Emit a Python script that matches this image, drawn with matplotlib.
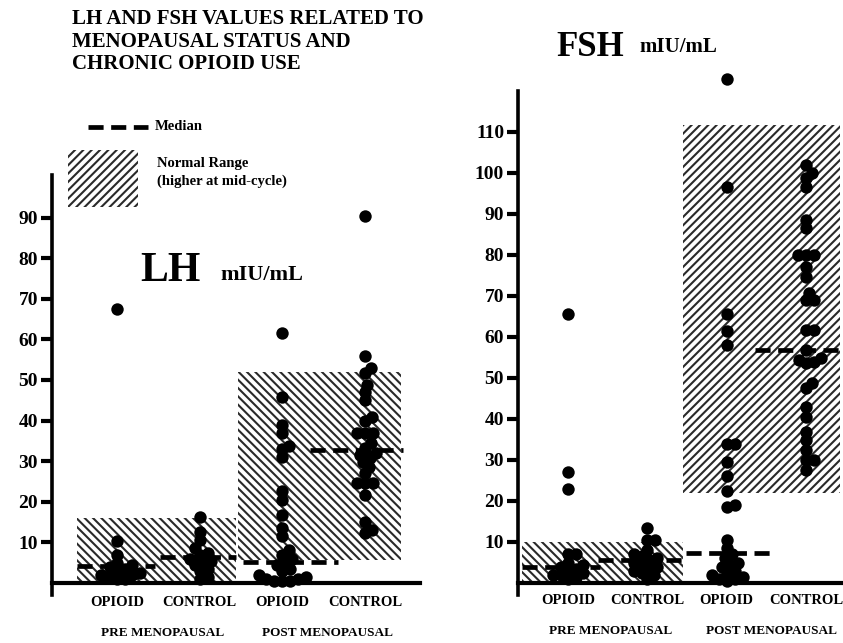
import numpy as np
import matplotlib
matplotlib.use("Agg")
import matplotlib.pyplot as plt
from matplotlib.patches import Rectangle
from matplotlib.lines import Line2D

plt.rcParams['font.family'] = ['Liberation Serif', 'DejaVu Serif']
plt.rcParams['font.weight'] = 'bold'
plt.rcParams['hatch.linewidth'] = 1.5

# ---------------- data ----------------
categories = ["OPIOID", "CONTROL", "OPIOID", "CONTROL"]
groups = ["PRE MENOPAUSAL", "POST MENOPAUSAL"]

lh_pre_opioid = [67.5, 10.3, 7.0, 5.0, 4.5, 4.0, 3.5, 3.0, 2.5, 2.0, 2.0, 1.5, 1.0, 1.0]
lh_pre_control = [16.3, 12.5, 10.5, 8.5, 7.5, 7.0, 6.0, 5.5, 5.0, 4.5, 3.5, 3.0, 1.5, 1.0]
lh_post_opioid = [61.5, 45.8, 39.0, 37.0, 33.7, 33.0, 31.0, 22.7, 20.4, 16.7, 13.5, 11.6,
                  8.1, 7.0, 6.0, 5.0, 4.5, 3.5, 3.0, 2.0, 1.5, 1.0, 1.0, 0.5, 0.5, 0.5]
lh_post_control = [90.5, 56.0, 53.0, 51.7, 48.8, 47.0, 45.0, 41.0, 40.0, 37.0, 37.0, 37.0,
                   34.5, 33.3, 32.0, 31.5, 30.8, 29.8, 28.6, 27.0, 24.6, 24.6, 24.6, 21.7,
                   15.0, 13.0, 12.3]
lh_medians = [4.3, 6.5, 5.2, 32.8]
lh_normal_pre = (0.0, 15.9)
lh_normal_post = (5.7, 52.0)

fsh_pre_opioid = [65.5, 27.0, 23.0, 7.0, 7.0, 5.0, 4.5, 4.0, 3.5, 3.0, 2.5, 2.0, 2.0, 1.5, 1.0]
fsh_pre_control = [13.5, 10.5, 10.5, 8.0, 7.0, 6.5, 6.0, 5.5, 5.0, 4.5, 4.0, 3.5, 3.0, 2.5, 2.0, 1.0]
fsh_post_opioid = [123.0, 96.5, 65.5, 61.5, 58.0, 34.0, 34.0, 29.5, 26.0, 22.5, 19.0, 18.5,
                   10.5, 8.5, 7.0, 6.0, 5.0, 4.5, 4.0, 3.0, 2.5, 2.0, 1.5, 1.0, 1.0, 0.5]
fsh_post_control = [102.0, 100.0, 98.8, 96.6, 88.5, 86.6, 80.0, 80.0, 80.0, 77.0, 74.6, 70.7,
                    69.0, 69.0, 61.7, 61.7, 56.8, 55.0, 54.5, 54.0, 53.6, 48.8, 47.6, 43.0,
                    40.5, 36.8, 34.9, 32.4, 30.0, 30.0, 27.6]
fsh_medians = [4.0, 5.6, 7.2, 56.8]
fsh_normal_pre = (0.0, 10.1)
fsh_normal_post = (21.9, 111.7)

lh_ticks = [10, 20, 30, 40, 50, 60, 70, 80, 90]
fsh_ticks = [10, 20, 30, 40, 50, 60, 70, 80, 90, 100, 110]

# ---------------- layout ----------------
W, H = 843, 643
fig = plt.figure(figsize=(W / 100, H / 100), dpi=100)


def fxy(px, py):
    return px / W, 1 - py / H


ax1 = fig.add_axes([52 / W, (H - 599.2) / H, 368 / W, (599.2 - 136.4) / H])
ax2 = fig.add_axes([518 / W, (H - 599.4) / H, 325 / W, (599.4 - 66.4) / H])
ax1.set_xlim(0.214, 4.665)
ax1.set_ylim(-4, 110)
ax2.set_xlim(0.369, 4.467)
ax2.set_ylim(-4, 126)

positions = [1, 2, 3, 4]


def swarm(ax, xc, vals, diam=7.5):
    trans = ax.transData
    pts = trans.transform(np.column_stack([np.full(len(vals), xc), vals]))
    ys = pts[:, 1]
    ppu = trans.transform((xc + 1, 0))[0] - trans.transform((xc, 0))[0]
    placed = []
    offs = np.zeros(len(vals))
    order = np.argsort(ys)
    cands = [0.0]
    for k in range(1, 60):
        cands += [k * 1.0, -k * 1.0]
    for i in order:
        y = ys[i]
        for c in cands:
            if all((c - px) ** 2 + (y - py) ** 2 >= diam ** 2 for px, py in placed):
                break
        placed.append((c, y))
        offs[i] = c
    return xc + offs / ppu


def style_axis(ax, ticks, top):
    for s in ['top', 'right']:
        ax.spines[s].set_visible(False)
    ax.spines['left'].set_linewidth(2.6)
    ax.spines['left'].set_bounds(-3, top)
    ax.spines['bottom'].set_position(('data', 0))
    ax.spines['bottom'].set_linewidth(3.0)
    ax.set_xticks([])
    ax.set_yticks(ticks)
    ax.set_yticklabels([str(t) for t in ticks])
    ax.tick_params(axis='y', length=8, width=3, direction='out', labelsize=14, pad=2)
    for lab in ax.get_yticklabels():
        lab.set_fontweight('bold')
    ax.patch.set_alpha(0)


def panel(ax, data, medians, med_ext, box_pre, box_post, box_pre_x, box_post_x,
          hatch_pre, hatch_post, lbl_y, grp_y, grp_x):
    r = Rectangle((box_pre_x[0], box_pre[0]), box_pre_x[1] - box_pre_x[0], box_pre[1] - box_pre[0],
                  facecolor='white', edgecolor='#2a2a2a', linewidth=0, hatch=hatch_pre, zorder=1)
    ax.add_patch(r)
    r = Rectangle((box_post_x[0], box_post[0]), box_post_x[1] - box_post_x[0], box_post[1] - box_post[0],
                  facecolor='white', edgecolor='#2a2a2a', linewidth=0, hatch=hatch_post, zorder=1)
    ax.add_patch(r)
    for p, vals in zip(positions, data):
        xs = swarm(ax, p, vals)
        ax.scatter(xs, vals, s=80, color='black', zorder=3, linewidths=0, clip_on=False)
    for (a, b), m in zip(med_ext, medians):
        ax.plot([a, b], [m, m], color='black', lw=3.4, linestyle=(0, (3.2, 1.6)), zorder=4,
                solid_capstyle='butt', dash_capstyle='butt')
    for p, c in zip(positions, categories):
        ax.text(p, lbl_y, c, ha='center', va='center', fontsize=10.5, fontweight='bold', clip_on=False)
    for gx, g in zip(grp_x, groups):
        ax.text(gx, grp_y, g, ha='center', va='center', fontsize=9.5, fontweight='bold', clip_on=False)


# LH panel
style_axis(ax1, lh_ticks, 100.5)
panel(ax1, [lh_pre_opioid, lh_pre_control, lh_post_opioid, lh_post_control], lh_medians,
      [(0.516, 1.46), (1.52, 2.44), (2.52, 3.67), (3.33, 4.46)],
      lh_normal_pre, lh_normal_post, (0.516, 2.439), (2.463, 4.434),
      '\\\\\\\\', '\\\\\\\\', -4.9, -12.3, [1.55, 3.55])

# FSH panel
style_axis(ax2, fsh_ticks, 120)
panel(ax2, [fsh_pre_opioid, fsh_pre_control, fsh_post_opioid, fsh_post_control], fsh_medians,
      [(0.42, 1.40), (1.38, 2.48), (2.49, 3.61), (3.36, 4.43)],
      fsh_normal_pre, fsh_normal_post, (0.42, 2.45), (2.45, 4.43),
      '\\\\\\\\', '////', -4.2, -11.8, [1.54, 3.57])

# titles
fig.text(*fxy(72, 9), "LH AND FSH VALUES RELATED TO\nMENOPAUSAL STATUS AND\nCHRONIC OPIOID USE",
         ha='left', va='top', fontsize=15, fontweight='bold', linespacing=1.18)
fig.text(*fxy(556, 56), "FSH", ha='left', va='baseline', fontsize=25, fontweight='bold')
fig.text(*fxy(639, 52), "mIU/mL", ha='left', va='baseline', fontsize=15, fontweight='bold')
fig.text(*fxy(140, 281), "LH", ha='left', va='baseline', fontsize=30, fontweight='bold')
fig.text(*fxy(220, 280), "mIU/mL", ha='left', va='baseline', fontsize=16, fontweight='bold')

# legend
x0, y0 = fxy(88, 127)
x1, _ = fxy(148, 127)
fig.add_artist(Line2D([x0, x1], [y0, y0], color='black', lw=3.4, linestyle=(0, (3.2, 1.6))))
fig.text(*fxy(155, 127), "Median", ha='left', va='center', fontsize=10.5, fontweight='bold')
bx, by = fxy(68, 207)
fig.add_artist(Rectangle((bx, by), 70 / W, 57 / H, transform=fig.transFigure,
                         facecolor='white', edgecolor='#2a2a2a', linewidth=0, hatch='////'))
fig.text(*fxy(157, 163), "Normal Range", ha='left', va='center', fontsize=10.5, fontweight='bold')
fig.text(*fxy(157, 181), "(higher at mid-cycle)", ha='left', va='center', fontsize=10.5, fontweight='bold')

fig.savefig("out.png", dpi=100)
